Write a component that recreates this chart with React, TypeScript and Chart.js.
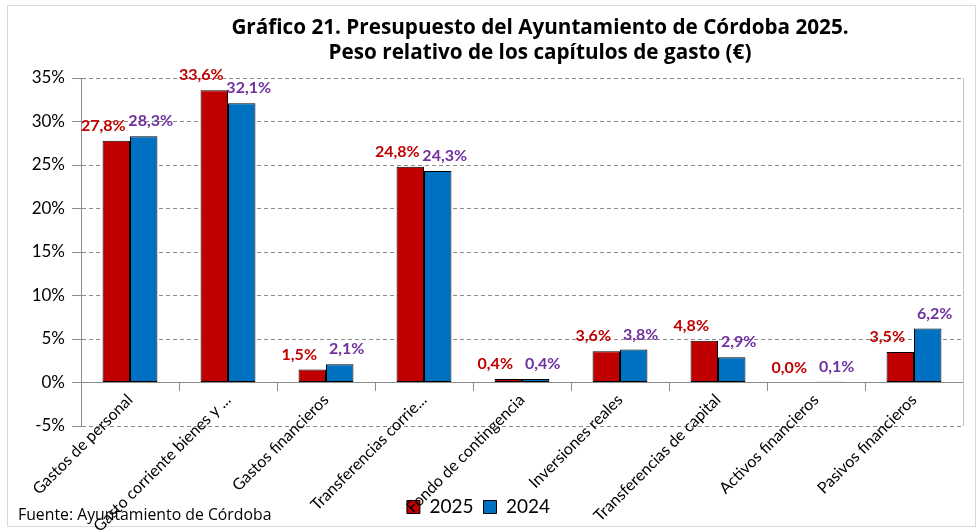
import React, { useEffect, useRef } from 'react';
import { Chart, registerables } from 'chart.js';

Chart.register(...registerables);

const FONT = 'Lato, "Open Sans", "DejaVu Sans", sans-serif';
const WIDE_FONT = '"Open Sans", Lato, "DejaVu Sans", sans-serif';

const titleLines = [
  'Gráfico 21. Presupuesto del Ayuntamiento de Córdoba 2025.',
  'Peso relativo de los capítulos de gasto (€)',
];
const sourceText = 'Fuente: Ayuntamiento de Córdoba';

const categories = [
  'Gastos de personal',
  'Gasto corriente bienes y ...',
  'Gastos financieros',
  'Transferencias corrie...',
  'Fondo de contingencia',
  'Inversiones reales',
  'Transferencias de capital',
  'Activos financieros',
  'Pasivos financieros',
];
const seriesNames = ['2025', '2024'];
const values2025 = [27.8, 33.6, 1.5, 24.8, 0.4, 3.6, 4.8, 0.0, 3.5];
const values2024 = [28.3, 32.1, 2.1, 24.3, 0.4, 3.8, 2.9, 0.1, 6.2];
const yMin = -5;
const yMax = 35;
const yStep = 5;

const RED = '#C00000';
const BLUE = '#0070C0';
const PURPLE = '#7030A0';
const GRID = '#8c8c8c';

const fmt = (v: number) => v.toFixed(1).replace('.', ',') + '%';

const decorPlugin = {
  id: 'decor',
  afterLayout(chart: any) {
    const lg = chart.legend;
    if (lg) {
      lg.top += 61.5;
      lg.bottom += 61.5;
      lg.left -= 13;
      lg.right -= 13;
    }
    const tb = chart.titleBlock;
    if (tb) {
      tb.left += 18;
      tb.right += 18;
    }
  },
  beforeDraw(chart: any) {
    const ctx = chart.ctx;
    ctx.save();
    ctx.strokeStyle = '#d9d9d9';
    ctx.lineWidth = 1;
    ctx.strokeRect(7.5, 5.5, 968, 521);
    ctx.restore();
  },
  beforeDatasetsDraw(chart: any) {
    const { ctx, chartArea } = chart;
    ctx.save();
    ctx.strokeStyle = '#bfbfbf';
    ctx.lineWidth = 1;
    ctx.beginPath();
    ctx.moveTo(Math.round(chartArea.right) + 0.5, chartArea.top);
    ctx.lineTo(Math.round(chartArea.right) + 0.5, chartArea.bottom);
    ctx.stroke();
    ctx.restore();
  },
  afterDatasetsDraw(chart: any) {
    const ctx = chart.ctx;
    ctx.save();
    ctx.font = `bold 16px ${FONT}`;
    ctx.textAlign = 'center';
    ctx.textBaseline = 'middle';
    const cfg = [
      { color: RED, dx: -13 },
      { color: PURPLE, dx: 7 },
    ];
    chart.data.datasets.forEach((ds: any, i: number) => {
      const meta = chart.getDatasetMeta(i);
      ctx.fillStyle = cfg[i].color;
      meta.data.forEach((el: any, j: number) => {
        ctx.fillText(fmt(ds.data[j]), el.x + cfg[i].dx, el.y - 15);
      });
    });
    ctx.restore();
  },
  afterDraw(chart: any) {
    const ctx = chart.ctx;
    ctx.save();
    ctx.font = `15.8px ${WIDE_FONT}`;
    ctx.fillStyle = '#000';
    ctx.textAlign = 'left';
    ctx.textBaseline = 'middle';
    ctx.fillText(sourceText, 18, 515);
    ctx.restore();
  },
};

export default function App() {
  const ref = useRef<HTMLCanvasElement>(null);

  useEffect(() => {
    if (!ref.current) return;
    const chart = new Chart(ref.current, {
      type: 'bar',
      data: {
        labels: categories,
        datasets: [
          {
            label: seriesNames[0],
            data: values2025,
            backgroundColor: RED,
            borderColor: '#000',
            borderWidth: 1,
            borderSkipped: false,
            categoryPercentage: 0.56,
            barPercentage: 1.0,
          },
          {
            label: seriesNames[1],
            data: values2024,
            backgroundColor: BLUE,
            borderColor: '#000',
            borderWidth: 1,
            borderSkipped: false,
            categoryPercentage: 0.56,
            barPercentage: 1.0,
          },
        ],
      },
      options: {
        animation: false,
        responsive: true,
        maintainAspectRatio: false,
        layout: { padding: { left: 20, right: 16, top: 4, bottom: 67 } },
        plugins: {
          title: {
            display: true,
            text: titleLines,
            fullSize: false,
            color: '#000',
            font: { family: WIDE_FONT, size: 20.7, weight: 'bold', lineHeight: 1.22 },
            padding: { top: 11, bottom: 12.5 },
          },
          legend: {
            display: true,
            position: 'bottom',
            labels: {
              color: '#000',
              font: { family: FONT, size: 19 },
              boxWidth: 13,
              boxHeight: 13,
              padding: 10,
            },
          },
          tooltip: { enabled: false },
        },
        scales: {
          x: {
            position: { y: 0 },
            offset: true,
            grid: {
              display: true,
              drawOnChartArea: false,
              drawTicks: true,
              tickLength: 8,
              color: GRID,
              offset: true,
            },
            border: { display: true, color: GRID, width: 1 },
            ticks: {
              autoSkip: false,
              minRotation: 45,
              maxRotation: 45,
              color: '#000',
              font: { family: FONT, size: 16 },
              padding: 0,
            },
          },
          y: {
            min: yMin,
            max: yMax,
            afterFit: (scale: any) => {
              scale.width = 61;
            },
            ticks: {
              stepSize: yStep,
              color: '#000',
              font: { family: FONT, size: 17 },
              padding: 7,
              callback: (v: any) => `${v}%`,
            },
            grid: {
              color: GRID,
              tickLength: 9,
              tickBorderDash: [],
            },
            border: { display: true, color: GRID, width: 1, dash: [4, 3] },
          },
        },
      },
      plugins: [decorPlugin],
    } as any);
    return () => chart.destroy();
  }, []);

  return (
    <div style={{ position: 'fixed', left: 0, top: 0, width: 979, height: 532 }}>
      <canvas ref={ref} />
    </div>
  );
}
